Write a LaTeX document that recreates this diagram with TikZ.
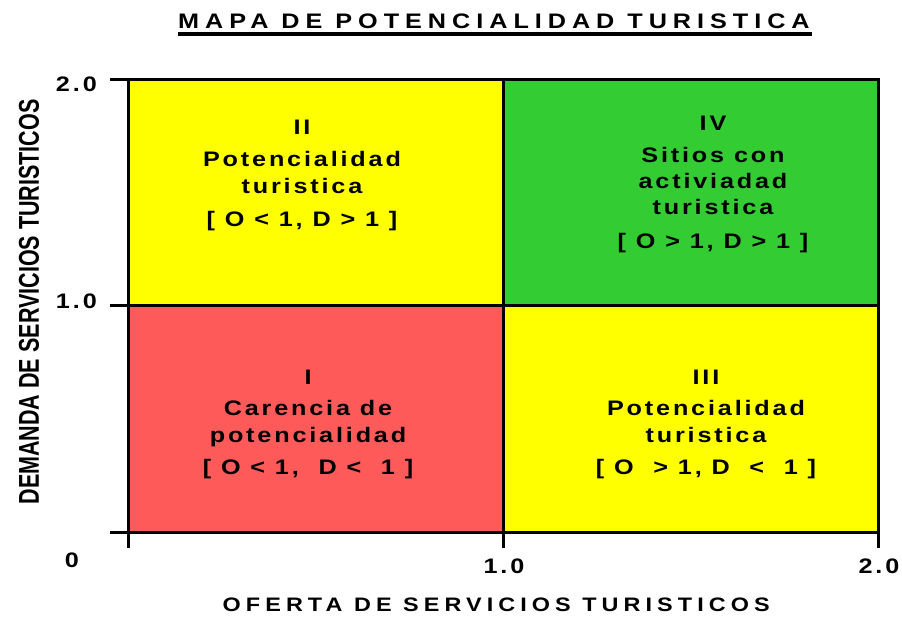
\documentclass[tikz,border=0pt]{standalone}
\usepackage{fontspec}
\setmainfont{Liberation Sans}
\newfontfamily\qfont{Liberation Sans}[FakeStretch=1.2,LetterSpace=13.5]
\newfontfamily\xfont{Liberation Sans}[FakeStretch=1.2,LetterSpace=26]
\newfontfamily\tfont{Liberation Sans}[FakeStretch=1.2,LetterSpace=28.5]
\newfontfamily\nfont{Liberation Sans}[FakeStretch=1.2,LetterSpace=14]
\definecolor{qyellow}{HTML}{FFFF00}
\definecolor{qgreen}{HTML}{33CC33}
\definecolor{qred}{HTML}{FF5A5A}
\tikzset{
  quad/.style={draw=black, line width=3pt},
  qtext/.style={align=center, inner sep=0pt, anchor=north, font=\qfont\bfseries\fontsize{21}{27}\selectfont},
  ticklab/.style={inner sep=0pt, font=\nfont\bfseries\fontsize{21}{24}\selectfont},
  axisline/.style={line width=3pt, black},
}
\begin{document}
\begin{tikzpicture}[x=1pt,y=-1pt]
\useasboundingbox (0,0) rectangle (902,617);
% quadrants
\fill[qyellow] (128,80) rectangle (503,306);
\fill[qgreen] (503,80) rectangle (878,306);
\fill[qred] (128,306) rectangle (503,532);
\fill[qyellow] (503,306) rectangle (878,532);
\draw[quad] (128,80) rectangle (878,532);
\draw[quad] (503,80) -- (503,532);
\draw[quad] (128,306) -- (878,306);
% axes
\draw[axisline] (128,80) -- (128,548);
\draw[axisline] (110,80) -- (128,80);
\draw[axisline] (110,306) -- (128,306);
\draw[axisline] (110,532) -- (128,532);
\draw[axisline] (503,532) -- (503,548);
\draw[axisline] (878,532) -- (878,548);
% quadrant texts
\node[qtext] (q2) at (302,120) {II\\[4.7pt]Potencialidad\\[-0.3pt]turistica\\[6.3pt]{[ O < 1, D > 1 ]}};
\node[qtext] (q4) at (713,115.7) {IV\\[5pt]Sitios con\\[-0.4pt]activiadad\\[-1.3pt]turistica\\[7.3pt]{[ O > 1, D > 1 ]}};
\node[qtext] (q1) at (308,370) {I\\[4pt]Carencia de\\[0.3pt]potencialidad\\[4.7pt]{[ O < 1,\ \ D <\ \ 1 ]}};
\node[qtext] (q3) at (706,370) {III\\[4pt]Potencialidad\\[0.3pt]turistica\\[4.7pt]{[ O\ \ > 1, D\ \ <\ \ 1 ]}};
% tick labels
\node[ticklab, anchor=base east] (y2) at (97,92) {2.0};
\node[ticklab, anchor=base east] (y1) at (97,308.5) {1.0};
\node[ticklab, anchor=base] (y0) at (72,567.7) {0};
\node[ticklab, anchor=base] (x1) at (504,573.5) {1.0};
\node[ticklab, anchor=base] (x2) at (879,573.5) {2.0};
% axis titles
\node[inner sep=0pt, anchor=base west, font=\xfont\bfseries\fontsize{19.5}{22}\selectfont] (xt) at (222.5,611.7) {OFERTA DE SERVICIOS TURISTICOS};
\node[inner sep=0pt, rotate=90] (yt) at (29,302) {\resizebox{405pt}{20pt}{\bfseries DEMANDA DE SERVICIOS TURISTICOS}};
% title
\node[inner sep=0pt, anchor=base west, font=\tfont\bfseries\fontsize{21}{26}\selectfont] (title) at (178,28.7) {MAPA DE POTENCIALIDAD TURISTICA};
\draw[line width=3.5pt] (178,34) -- (812,34);
\end{tikzpicture}
\end{document}
